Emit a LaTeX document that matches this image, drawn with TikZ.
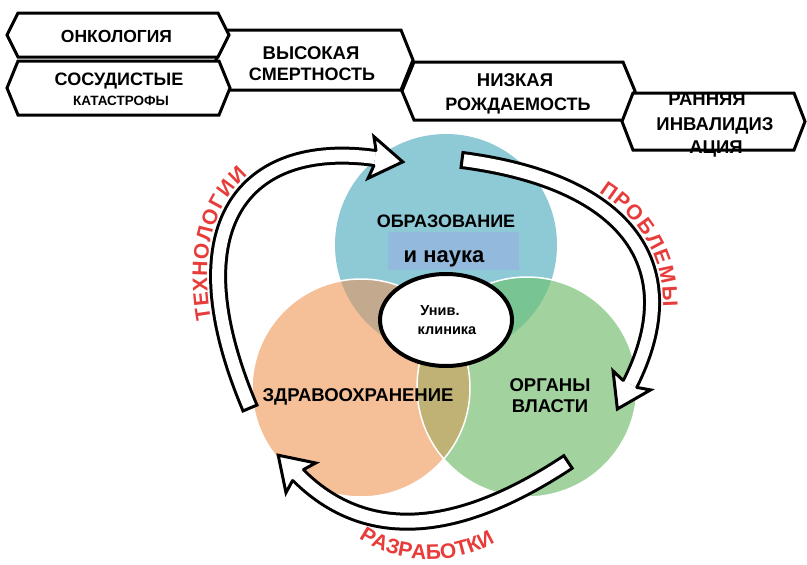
\documentclass[tikz,border=0pt]{standalone}
\usepackage{fontspec}
\setmainfont{Liberation Sans}
\usetikzlibrary{calc,shapes.geometric,decorations.text}
\definecolor{cblue}{RGB}{142,201,214}
\definecolor{corange}{RGB}{245,191,152}
\definecolor{cgreen}{RGB}{162,211,159}
\definecolor{cbo}{RGB}{195,170,142}
\definecolor{cbg}{RGB}{121,196,147}
\definecolor{cog}{RGB}{192,178,116}
\definecolor{crect}{RGB}{147,185,220}
\definecolor{tred}{RGB}{232,60,58}
\newcommand\hexshape[5]{(#1,{(#3+#4)/2}) -- ({#1+#5},#3) -- ({#2-#5},#3) -- (#2,{(#3+#4)/2}) -- ({#2-#5},#4) -- ({#1+#5},#4) -- cycle}
\tikzset{
  hexst/.style={draw=black, fill=white, line width=3pt, line join=miter},
  hexfill/.style={fill=white},
  hexline/.style={draw=black, line width=3pt, line join=miter},
  lbl/.style={font=\bfseries\fontsize{#1}{#1}\selectfont, inner sep=0pt, anchor=base},
  lbl/.default=18,
  body/.style={line width=3pt, double=white, double distance=12pt},
  tailcap/.style={line width=3pt, line cap=rect},
  headst/.style={fill=white, draw=black, line width=3pt, line join=miter, line cap=round},
}
\newcommand\hollowhead[2]{% #1 end point, #2 forward point
  \filldraw[headst] ($(#1)!7.5pt!90:(#2)$) -- ($($(#1)!-4pt!(#2)$)!21pt!90:(#2)$) -- ($(#1)!28pt!(#2)$) -- ($($(#1)!-4pt!(#2)$)!21pt!-90:(#2)$) -- ($(#1)!7.5pt!-90:(#2)$);}
\begin{document}
\begin{tikzpicture}[x=1pt,y=-1pt]
\useasboundingbox (0,0) rectangle (807,565);
\fill[white] (0,0) rectangle (807,565);

% ---- hexagon chain ----
\draw[hexst] \hexshape{216}{413}{30}{90}{12};
\node[lbl=18.5] (h3a) at (311,59.5) {ВЫСОКАЯ};
\node[lbl] (h3b) at (312,80.5) {СМЕРТНОСТЬ};
\draw[hexst] \hexshape{7}{229}{13}{57}{11};
\node[lbl=17.5] (h1) at (116.5,42.3) {ОНКОЛОГИЯ};
\draw[hexst] \hexshape{7}{230}{61}{115}{11};
\node[lbl=18] (h2a) at (119,85) {СОСУДИСТЫЕ};
\node[lbl=13.5] (h2b) at (121,105) {КАТАСТРОФЫ};
\draw[hexst] \hexshape{402}{635}{62}{120}{12};
\node[lbl=18.5] (h4a) at (515,86.5) {НИЗКАЯ};
\node[lbl] (h4b) at (518,110) {РОЖДАЕМОСТЬ};
\fill[hexfill] \hexshape{622}{805}{93}{150}{11};
\node[lbl=18.5] (h5a) at (707,105) {РАННЯЯ};
\node[lbl=18.5] (h5b) at (715,130) {ИНВАЛИДИЗ};
\node[lbl=18.5] (h5c) at (716,153) {АЦИЯ};
\draw[hexline] \hexshape{622}{805}{93}{150}{11};

% ---- circles ----
\fill[cblue] (446,245) circle[radius=111];
\fill[corange] (361,388) circle[radius=109];
\fill[cgreen] (527,387) circle[radius=110];
\begin{scope}
  \clip (446,245) circle[radius=111];
  \fill[cbo] (361,388) circle[radius=109];
  \fill[cbg] (527,387) circle[radius=110];
\end{scope}
\begin{scope}
  \clip (361,388) circle[radius=109];
  \fill[cog] (527,387) circle[radius=110];
\end{scope}
\draw[white, line width=1.5pt] (361,388) circle[radius=109];
\draw[white, line width=1.5pt] (527,387) circle[radius=110];

\node[fill=crect, minimum width=131pt, minimum height=38pt, inner sep=0pt] (rect) at (453.5,251) {};
\node[lbl=18] (obr) at (446,227) {ОБРАЗОВАНИЕ};
\node[lbl=22] (nauka) at (444,262) {и наука};
\node[lbl=18.5] (zdr) at (358,401) {ЗДРАВООХРАНЕНИЕ};
\node[lbl=18.5] (org) at (550,391) {ОРГАНЫ};
\node[lbl=18.5] (vla) at (550,412) {ВЛАСТИ};

\node[ellipse, draw=black, fill=white, line width=4pt, minimum width=132pt, minimum height=92pt, inner sep=0pt] (klin) at (446,320) {};
\node[lbl=14.5] (univ) at (440,315) {Унив.};
\node[lbl=14.5] (klinika) at (447,334) {клиника};

% ---- arrows ----
\coordinate (S1) at (250,408); \coordinate (A1) at (172,224); \coordinate (B1) at (246,140); \coordinate (E1) at (375,158);
\coordinate (S2) at (462,160); \coordinate (A2) at (630,182); \coordinate (B2) at (688.5,268.3); \coordinate (E2) at (630,384);
\coordinate (S3) at (568,462); \coordinate (A3) at (476.7,522.5); \coordinate (B3) at (376,553); \coordinate (E3) at (298,475);
\coordinate (F1) at ($(E1)!-1!(B1)$);
\coordinate (F2) at ($(E2)!-1!(B2)$);
\coordinate (F3) at ($(E3)!-1!(B3)$);

\draw[body] (S1) .. controls (A1) and (B1) .. (E1);
\draw[tailcap] ($(S1)!7.5pt!90:(A1)$) -- ($(S1)!7.5pt!-90:(A1)$);
\hollowhead{E1}{F1}

\draw[body] (S2) .. controls (A2) and (B2) .. (E2);
\draw[tailcap] ($(S2)!7.5pt!90:(A2)$) -- ($(S2)!7.5pt!-90:(A2)$);
\hollowhead{E2}{F2}

\draw[body] (S3) .. controls (A3) and (B3) .. (E3);
\draw[tailcap] ($(S3)!7.5pt!90:(A3)$) -- ($(S3)!7.5pt!-90:(A3)$);
\hollowhead{E3}{F3}

% ---- curved labels ----
\path[decorate, decoration={text along path, raise=11pt, text align={left indent=95pt},
  text={|\fontsize{21}{21}\selectfont\bfseries\color{tred}|ТЕХНОЛОГИИ}}]
  (S1) .. controls (A1) and (B1) .. (E1);
\path[decorate, decoration={text along path, raise=11pt, text align={left indent=138pt},
  text={|\fontsize{21}{21}\selectfont\bfseries\color{tred}|ПРОБЛЕМЫ}}]
  (S2) .. controls (A2) and (B2) .. (E2);
\path[decorate, decoration={text along path, text align=center,
  text={|\fontsize{21}{21}\selectfont\bfseries\color{tred}|РАЗРАБОТКИ}}]
  (340,521) .. controls (380,570) and (470,573) .. (515,526);
\end{tikzpicture}
\end{document}
